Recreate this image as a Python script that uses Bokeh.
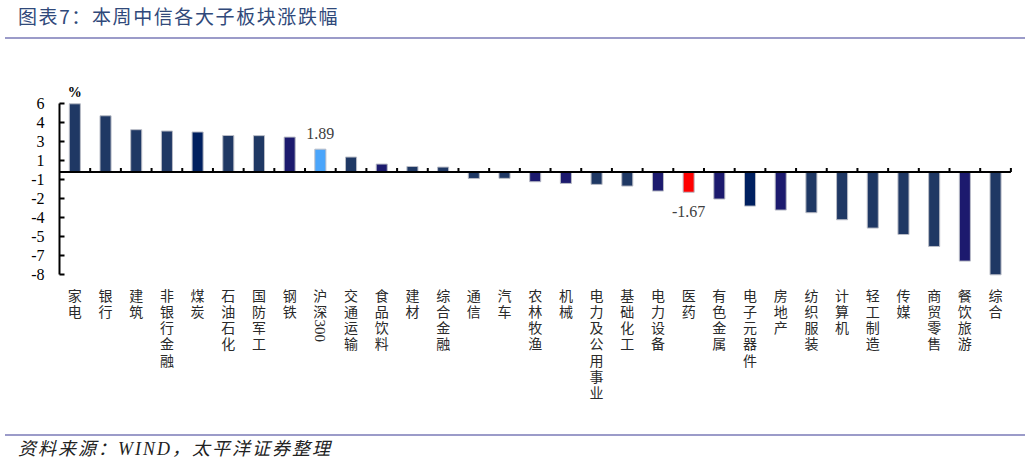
import math
from bokeh.plotting import figure
from bokeh.models import Div, Range1d, FixedTicker, Label, ColumnDataSource
from bokeh.layouts import column
from bokeh.core.properties import value
from bokeh.embed import file_html
from bokeh.resources import INLINE

# ---------------- data ----------------
categories = ["家电", "银行", "建筑", "非银行金融", "煤炭", "石油石化", "国防军工", "钢铁",
              "沪深300", "交通运输", "食品饮料", "建材", "综合金融", "通信", "汽车", "农林牧渔",
              "机械", "电力及公用事业", "基础化工", "电力设备", "医药", "有色金属", "电子元器件",
              "房地产", "纺织服装", "计算机", "轻工制造", "传媒", "商贸零售", "餐饮旅游", "综合"]
values = [5.64, 4.65, 3.50, 3.39, 3.31, 3.02, 3.01, 2.89,
          1.89, 1.24, 0.66, 0.46, 0.41, -0.53, -0.52, -0.80,
          -0.94, -1.02, -1.16, -1.57, -1.67, -2.23, -2.81,
          -3.14, -3.36, -3.94, -4.63, -5.16, -6.15, -7.36, -8.49]
STD, NAVY, MID = "#1f3864", "#002060", "#1c1a6e"
bar_colors = [STD, STD, STD, STD, NAVY, STD, STD, MID,
              "#4aa5fb", STD, MID, STD, STD, STD, STD, MID,
              MID, STD, STD, MID, "#ff0000", MID, NAVY,
              MID, STD, STD, STD, STD, STD, MID, STD]
labelled = ["沪深300", "医药"]
y_axis_max = 5.64
y_axis_min = -8.49
y_tick_labels = ["6", "4", "3", "1", "-1", "-2", "-4", "-5", "-7", "-8"]
title_text = "图表7：本周中信各大子板块涨跌幅"
source_text = "资料来源：WIND，太平洋证券整理"

# ---------------- layout constants ----------------
FIG_W, FIG_H = 1031, 395
LEFT = 59
cat_px = 30.69
top_px = 64.3      # pixel of y_axis_max from frame top
bot_px = 235.3     # pixel of y_axis_min from frame top
ppu = (bot_px - top_px) / (y_axis_max - y_axis_min)
y_top = y_axis_max + top_px / ppu
y_bot = y_axis_min - (FIG_H - bot_px) / ppu
x_end = -0.5 + (FIG_W - LEFT) / cat_px

n = len(categories)
xs = list(range(n))

p = figure(width=FIG_W, height=FIG_H, x_range=Range1d(-0.5, x_end), y_range=Range1d(y_bot, y_top),
           output_backend="svg", toolbar_location=None, x_axis_type=None,
           min_border_left=LEFT, min_border_right=0, min_border_top=0, min_border_bottom=0,
           margin=0)
p.outline_line_color = None
p.grid.visible = False
p.background_fill_color = "white"
p.border_fill_color = "white"

# y axis
step = (y_axis_max - y_axis_min) / (len(y_tick_labels) - 1)
y_ticks = [round(y_axis_max - i * step, 4) for i in range(len(y_tick_labels))]
ya = p.yaxis[0]
ya.ticker = FixedTicker(ticks=y_ticks)
ya.major_label_overrides = {t: s for t, s in zip(y_ticks, y_tick_labels)}
ya.bounds = (min(y_ticks), max(y_ticks))
ya.axis_line_color = "black"
ya.axis_line_width = 2
ya.major_tick_line_color = "black"
ya.major_tick_line_width = 2
ya.major_tick_in = 5
ya.major_tick_out = 0
ya.minor_tick_line_color = None
ya.major_label_standoff = 15
ya.major_label_text_font = "Liberation Serif"
ya.major_label_text_font_size = "16px"
ya.major_label_text_color = "black"

# bars
src = ColumnDataSource(dict(x=xs, top=values, color=bar_colors, cat=categories))
p.vbar(x="x", top="top", bottom=0, width=0.36, fill_color="color", line_color="#b9bcc6",
       line_width=1, source=src)

# zero line with category-boundary ticks
p.segment(x0=[-0.5], y0=[0], x1=[n - 0.5], y1=[0], line_color="black", line_width=2)
tick_h = 4 / ppu
bounds = [i + 0.5 for i in range(n)]
p.segment(x0=bounds, y0=[0] * n, x1=bounds, y1=[tick_h] * n, line_color="black", line_width=2)

# "%" unit
p.add_layout(Label(x=0, y=y_axis_max, y_offset=11, text="%", text_font="Liberation Serif",
                   text_font_size="14px", text_font_style="bold", text_align="center",
                   text_baseline="middle", text_color="black"))

# value labels
for c in labelled:
    i = categories.index(c)
    v = values[i]
    p.text(x=[i], y=[v], text=[f"{v:.2f}"], y_offset=-16 if v > 0 else 19,
           text_font=value("Liberation Serif"), text_font_size="16px", text_color="#404040",
           text_align="center", text_baseline="middle")

# vertical category labels: one glyph per character, stacked
LINE_H = 16.25
FIRST = 19.7
ch_x, ch_t, ch_off = [], [], []
asc_x, asc_t, asc_off = [], [], []
for i, c in enumerate(categories):
    k = 0
    asc = "".join(ch for ch in c if ch.isascii())
    for ch in c:
        if ch.isascii():
            continue
        ch_x.append(i)
        ch_t.append(ch)
        ch_off.append(FIRST + k * LINE_H)
        k += 1
    if asc:
        asc_x.append(i)
        asc_t.append(asc)
        asc_off.append(FIRST + k * LINE_H - 7.5)
lab_src = ColumnDataSource(dict(x=ch_x, y=[y_axis_min] * len(ch_x), t=ch_t, off=ch_off))
p.text(x="x", y="y", text="t", y_offset="off", source=lab_src,
       text_font=value("Noto Sans CJK SC"), text_font_size="14px", text_color="#2a2a2a",
       text_align="center", text_baseline="middle")
asc_src = ColumnDataSource(dict(x=asc_x, y=[y_axis_min] * len(asc_x), t=asc_t, off=asc_off))
p.text(x="x", y="y", text="t", y_offset="off", source=asc_src, angle=-math.pi / 2,
       text_font=value("Liberation Serif"), text_font_size="15px", text_color="#2a2a2a",
       text_align="left", text_baseline="middle")

LINE_COL = "#9b9bc9"
title_div = Div(width=FIG_W, height=39, margin=0, text=(
    f'<div style="box-sizing:border-box;width:1020px;margin-left:5px;height:39px;'
    f'border-bottom:2px solid {LINE_COL};padding-left:13px;padding-top:7px;'
    f'font-family:\'Noto Sans CJK SC\';font-size:19px;line-height:17px;color:#30497a;'
    f'letter-spacing:1.6px;white-space:nowrap;">{title_text}</div>'))
foot_div = Div(width=FIG_W, height=25, margin=0, text=(
    f'<div style="box-sizing:border-box;width:1020px;margin-left:5px;height:25px;'
    f'border-top:2px solid {LINE_COL};padding-left:13px;padding-top:3px;'
    f'font-family:\'Liberation Serif\',\'Noto Sans CJK SC\';font-style:italic;font-size:18px;'
    f'line-height:20px;color:#222;white-space:nowrap;letter-spacing:2px;">{source_text}</div>'))

layout = column(title_div, p, foot_div, spacing=0, margin=0)
open("out.html", "w").write(file_html(layout, INLINE))
